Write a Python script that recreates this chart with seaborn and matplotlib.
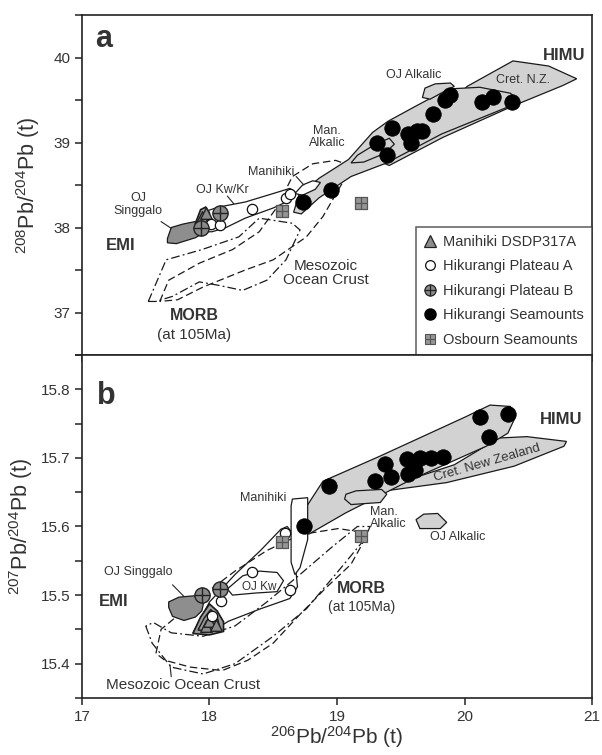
import numpy as np
import pandas as pd
import matplotlib
matplotlib.use("Agg")
import matplotlib.pyplot as plt
import seaborn as sns
from matplotlib.lines import Line2D
from matplotlib.legend_handler import HandlerTuple

# ---------------- data : panel a (208Pb/204Pb vs 206Pb/204Pb) ----------------
sea_x_a = [18.73, 18.95, 19.31, 19.39, 19.43, 19.56, 19.58, 19.63, 19.67, 19.75, 19.85, 19.89, 20.14, 20.22, 20.37]
sea_y_a = [38.30, 38.44, 38.99, 38.85, 39.17, 39.10, 39.00, 39.13, 39.14, 39.34, 39.50, 39.56, 39.48, 39.54, 39.48]
plA_x_a = [18.01, 18.08, 18.33, 18.60, 18.63]
plA_y_a = [38.04, 38.03, 38.22, 38.35, 38.40]
plB_x_a = [17.93, 18.08]
plB_y_a = [38.00, 38.17]
osb_x_a = [18.57, 19.19]
osb_y_a = [38.20, 38.29]
man_x_a = [17.94, 17.97]
man_y_a = [38.12, 38.17]

# ---------------- data : panel b (207Pb/204Pb vs 206Pb/204Pb) ----------------
sea_x_b = [18.74, 18.94, 19.30, 19.38, 19.42, 19.55, 19.56, 19.61, 19.65, 19.74, 19.83, 20.12, 20.19, 20.34]
sea_y_b = [15.601, 15.659, 15.666, 15.691, 15.672, 15.698, 15.676, 15.683, 15.700, 15.700, 15.701, 15.760, 15.731, 15.764]
plA_x_b = [18.02, 18.09, 18.33, 18.59, 18.63]
plA_y_b = [15.470, 15.491, 15.533, 15.591, 15.508]
plB_x_b = [17.94, 18.08]
plB_y_b = [15.500, 15.509]
osb_x_b = [18.57, 19.19]
osb_y_b = [15.577, 15.586]
man_x_b = [17.97, 18.00, 18.05]
man_y_b = [15.455, 15.462, 15.456]

legend_labels = ["Manihiki DSDP317A", "Hikurangi Plateau A", "Hikurangi Plateau B",
                 "Hikurangi Seamounts", "Osbourn Seamounts"]
x_ticks = [17, 18, 19, 20, 21]
y_ticks_a = [37, 38, 39, 40]
y_ticks_b = [15.4, 15.5, 15.6, 15.7, 15.8]

# ---------------- field outlines (data coordinates) ----------------
fields_a = {
    "cretnz": [(19.36, 38.76), (19.92, 39.5), (20.02, 39.66), (20.38, 39.96), (20.66, 39.90),
               (20.88, 39.75), (20.77, 39.67), (20.38, 39.43), (19.83, 39.06), (19.41, 38.73)],
    "seamount": [(18.66, 38.18), (18.70, 38.38), (18.86, 38.58), (19.09, 38.80), (19.28, 39.12),
                 (19.40, 39.25), (19.62, 39.43), (19.87, 39.63), (20.12, 39.65), (20.36, 39.58),
                 (20.42, 39.50), (20.36, 39.43), (19.82, 39.10), (19.39, 38.76), (19.11, 38.60),
                 (18.86, 38.35), (18.72, 38.16)],
    "manalk": [(19.11, 38.76), (19.16, 38.85), (19.29, 38.97), (19.41, 39.05), (19.45, 38.98),
               (19.37, 38.87), (19.21, 38.77)],
    "ojalk": [(19.67, 39.53), (19.69, 39.64), (19.77, 39.69), (19.89, 39.70), (19.92, 39.66),
              (19.84, 39.60), (19.73, 39.51)],
    "singgalo": [(17.67, 37.87), (17.70, 38.0), (17.79, 38.04), (17.92, 38.08), (17.98, 38.05),
                 (17.97, 37.95), (17.89, 37.88), (17.74, 37.81), (17.67, 37.82)],
    "manfield": [(17.89, 38.05), (17.93, 38.21), (17.97, 38.24), (18.00, 38.17), (17.98, 38.01)],
    "ojkw": [(17.94, 37.95), (17.92, 38.03), (17.97, 38.19), (18.07, 38.24), (18.28, 38.30),
             (18.50, 38.40), (18.63, 38.46), (18.67, 38.42), (18.63, 38.32), (18.50, 38.23),
             (18.28, 38.11), (18.13, 38.00), (18.02, 37.95)],
    "manihiki": [(18.67, 38.40), (18.73, 38.50), (18.81, 38.55), (18.87, 38.53), (18.83, 38.45),
                 (18.73, 38.38)],
    "morb": [(17.52, 37.13), (17.66, 37.62), (17.94, 37.74), (18.23, 37.89), (18.39, 38.11),
             (18.65, 38.05), (18.71, 37.97), (18.60, 37.62), (18.45, 37.38), (18.26, 37.26),
             (18.07, 37.32), (17.92, 37.36), (17.71, 37.19), (17.58, 37.13)],
    "meso": [(17.61, 37.13), (17.68, 37.38), (17.92, 37.58), (18.18, 37.74), (18.39, 37.95),
             (18.53, 38.24), (18.65, 38.60), (18.81, 38.75), (18.99, 38.79), (19.08, 38.74),
             (19.04, 38.52), (18.89, 38.13), (18.76, 37.89), (18.50, 37.62), (18.28, 37.50),
             (17.95, 37.30), (17.75, 37.15)],
}
fields_b = {
    "cretnz": [(19.41, 15.659), (19.92, 15.690), (20.27, 15.729), (20.49, 15.731), (20.80, 15.724),
               (20.78, 15.717), (20.39, 15.688), (19.86, 15.664), (19.38, 15.652)],
    "seamount": [(18.71, 15.591), (18.68, 15.606), (18.89, 15.666), (19.33, 15.702), (20.01, 15.760),
                 (20.20, 15.777), (20.36, 15.775), (20.40, 15.760), (20.34, 15.736), (20.17, 15.717),
                 (19.59, 15.669), (19.07, 15.620), (18.78, 15.589)],
    "manalk": [(19.07, 15.647), (19.15, 15.652), (19.35, 15.654), (19.39, 15.647), (19.34, 15.635),
               (19.11, 15.632), (19.06, 15.640)],
    "ojalk": [(19.62, 15.610), (19.68, 15.618), (19.79, 15.619), (19.86, 15.606), (19.81, 15.597),
              (19.65, 15.597)],
    "singgalo": [(17.68, 15.490), (17.76, 15.497), (17.88, 15.499), (17.96, 15.494), (17.94, 15.477),
                 (17.89, 15.468), (17.80, 15.463), (17.71, 15.469), (17.68, 15.482)],
    "manfield": [(17.87, 15.444), (17.93, 15.468), (18.00, 15.487), (18.06, 15.477), (18.11, 15.461),
                 (18.11, 15.447), (18.00, 15.442)],
    "manfield2": [(17.91, 15.449), (17.96, 15.467), (18.01, 15.479), (18.06, 15.468), (18.08, 15.454),
                  (18.01, 15.448)],
    "plateau": [(17.87, 15.445), (18.00, 15.490), (18.20, 15.530), (18.40, 15.565), (18.56, 15.596),
                (18.61, 15.600), (18.65, 15.590), (18.67, 15.550), (18.69, 15.512), (18.63, 15.495),
                (18.40, 15.480), (18.15, 15.462), (18.00, 15.445)],
    "ojkw": [(18.14, 15.509), (18.26, 15.528), (18.39, 15.535), (18.53, 15.533), (18.58, 15.521),
             (18.53, 15.505), (18.36, 15.503), (18.18, 15.500)],
    "manihiki": [(18.64, 15.630), (18.65, 15.640), (18.77, 15.642), (18.77, 15.581), (18.71, 15.540),
                 (18.67, 15.530), (18.64, 15.548)],
    "meso": [(17.58, 15.415), (17.62, 15.450), (17.75, 15.470), (17.95, 15.500), (18.20, 15.535),
             (18.45, 15.565), (18.71, 15.588), (19.01, 15.597), (19.18, 15.592), (19.20, 15.575),
             (19.11, 15.545), (18.91, 15.510), (18.70, 15.470), (18.50, 15.430), (18.30, 15.405),
             (18.10, 15.390), (17.85, 15.395), (17.65, 15.405)],
    "morb": [(17.50, 15.455), (17.55, 15.430), (17.70, 15.395), (17.95, 15.385), (18.20, 15.400),
             (18.50, 15.440), (18.76, 15.480), (19.01, 15.535), (19.21, 15.580), (19.26, 15.600),
             (19.16, 15.600), (18.96, 15.570), (18.71, 15.530), (18.45, 15.490), (18.20, 15.455),
             (17.95, 15.440), (17.70, 15.445), (17.56, 15.460)],
}

# ---------------- style ----------------
sns.set_theme(style="ticks")
plt.rcParams["font.family"] = ["Liberation Sans", "DejaVu Sans"]
plt.rcParams["mathtext.fontset"] = "custom"
plt.rcParams["mathtext.rm"] = "Liberation Sans"
plt.rcParams["mathtext.it"] = "Liberation Sans"
TXT = "#333333"
LG = "#d2d2d2"
DG = "#8e8e8e"
MG = "#8a8a8a"

fig = plt.figure(figsize=(6.02, 7.55), dpi=100)
ax_a = fig.add_axes([0.1362, 0.5298, 0.8472, 0.4503])
ax_b = fig.add_axes([0.1362, 0.0755, 0.8472, 0.4543])


def poly(ax, pts, fc="none", lw=0.9, z=2, dashes=None):
    xy = np.array(pts)
    p = ax.fill(xy[:, 0], xy[:, 1], facecolor=fc, edgecolor="#1a1a1a", lw=lw, zorder=z)[0]
    if dashes is not None:
        p.set_linestyle((0, dashes))
    return p


def draw_fields(ax, f, panel):
    poly(ax, f["meso"], dashes=(6, 3), z=1.5)
    poly(ax, f["morb"], dashes=(7, 2.5, 1.5, 2.5), z=1.5)
    poly(ax, f["cretnz"], fc=LG, z=2)
    poly(ax, f["seamount"], fc=LG, z=2.1)
    poly(ax, f["manalk"], fc=LG, z=2.2)
    poly(ax, f["ojalk"], fc=LG, z=2.2)
    if panel == "b":
        poly(ax, f["plateau"], fc="none", z=2.2)
    poly(ax, f["ojkw"], fc="white" if panel == "a" else "none", z=2.3)
    poly(ax, f["manihiki"], fc="white", z=2.3)
    poly(ax, f["singgalo"], fc=DG, z=2.4)
    poly(ax, f["manfield"], fc="#9a9a9a", z=2.4, lw=1.2)
    if "manfield2" in f:
        poly(ax, f["manfield2"], fc="none", z=2.45, lw=1.0)


def draw_points(ax, sx, sy, ax_, ay, bx, by, ox, oy, mx, my):
    sns.scatterplot(x=mx, y=my, marker="^", s=70, color="#8c8c8c", edgecolor="#222222",
                    linewidth=1.0, ax=ax, zorder=5, legend=False)
    sns.scatterplot(x=ax_, y=ay, marker="o", s=55, color="white", edgecolor="#111111",
                    linewidth=0.9, ax=ax, zorder=6, legend=False)
    sns.scatterplot(x=bx, y=by, marker="o", s=120, color=MG, edgecolor="#222222",
                    linewidth=1.0, ax=ax, zorder=6, legend=False)
    sns.scatterplot(x=bx, y=by, marker="+", s=120, color="#222222",
                    linewidth=1.0, ax=ax, zorder=6.1, legend=False)
    sns.scatterplot(x=ox, y=oy, marker="s", s=80, color="#959595", edgecolor="#555555",
                    linewidth=0.9, ax=ax, zorder=6, legend=False)
    sns.scatterplot(x=ox, y=oy, marker="+", s=80, color="#555555",
                    linewidth=0.9, ax=ax, zorder=6.1, legend=False)
    sns.scatterplot(x=sx, y=sy, marker="o", s=125, color="black", edgecolor="black",
                    linewidth=0.5, ax=ax, zorder=7, legend=False)


draw_fields(ax_a, fields_a, "a")
draw_fields(ax_b, fields_b, "b")
draw_points(ax_a, sea_x_a, sea_y_a, plA_x_a, plA_y_a, plB_x_a, plB_y_a, osb_x_a, osb_y_a, man_x_a, man_y_a)
draw_points(ax_b, sea_x_b, sea_y_b, plA_x_b, plA_y_b, plB_x_b, plB_y_b, osb_x_b, osb_y_b, man_x_b, man_y_b)

# ---------------- axes ----------------
for ax in (ax_a, ax_b):
    ax.set_xlim(17, 21)
    ax.set_xticks(x_ticks)
    for s in ax.spines.values():
        s.set_visible(True)
        s.set_color("#222222")
        s.set_linewidth(1.2)
    ax.tick_params(which="both", direction="out", length=5, width=1.1, color="#222222",
                   labelsize=11, labelcolor=TXT, top=False, right=False)
    ax.set_facecolor("white")
    ax.grid(False)

ax_a.set_ylim(36.5, 40.5)
ax_a.set_yticks(y_ticks_a)
ax_a.set_yticks(np.arange(36.5, 40.51, 0.5), minor=True)
ax_a.set_xticklabels([])
ax_a.set_ylabel(r"$^{208}$Pb/$^{204}$Pb (t)", fontsize=15.5, color=TXT, labelpad=8)

ax_b.set_ylim(15.35, 15.85)
ax_b.set_yticks(y_ticks_b)
ax_b.set_yticklabels([f"{v:.1f}" for v in y_ticks_b])
ax_b.set_yticks(np.arange(15.35, 15.851, 0.05), minor=True)
ax_b.set_xticklabels([str(v) for v in x_ticks])
ax_b.set_ylabel(r"$^{207}$Pb/$^{204}$Pb (t)", fontsize=15.5, color=TXT, labelpad=4)
ax_b.set_xlabel(r"$^{206}$Pb/$^{204}$Pb (t)", fontsize=15, color=TXT, labelpad=0)

# ---------------- annotations panel a ----------------
kw = dict(color=TXT, ha="center", va="center", zorder=8)
ax_a.text(17.17, 40.22, "a", fontsize=22, fontweight="bold", **kw)
ax_a.text(20.78, 40.02, "HIMU", fontsize=12, fontweight="bold", **kw)
ax_a.text(19.60, 39.80, "OJ Alkalic", fontsize=9, **kw)
ax_a.text(20.46, 39.73, "Cret. N.Z.", fontsize=9, **kw)
ax_a.text(18.92, 39.07, "Man.\nAlkalic", fontsize=9, linespacing=1.0, **kw)
ax_a.text(18.48, 38.65, "Manihiki", fontsize=9, **kw)
ax_a.plot([18.68, 18.74], [38.60, 38.50], color="#222222", lw=0.8, zorder=8)
ax_a.text(18.10, 38.44, "OJ Kw/Kr", fontsize=9, **kw)
ax_a.plot([18.14, 18.19], [38.37, 38.28], color="#222222", lw=0.8, zorder=8)
ax_a.text(17.44, 38.27, "OJ\nSinggalo", fontsize=9, linespacing=1.05, **kw)
ax_a.plot([17.62, 17.70], [38.07, 37.99], color="#222222", lw=0.8, zorder=8)
ax_a.text(17.30, 37.79, "EMI", fontsize=12, fontweight="bold", **kw)
ax_a.text(18.91, 37.47, "Mesozoic\nOcean Crust", fontsize=11, linespacing=1.0, **kw)
ax_a.text(17.88, 36.97, "MORB", fontsize=11.5, fontweight="bold", **kw)
ax_a.text(17.88, 36.74, "(at 105Ma)", fontsize=11, **kw)

# legend
h_man = Line2D([], [], ls="none", marker="^", ms=8, mfc="#8c8c8c", mec="#222222", mew=0.9)
h_pa = Line2D([], [], ls="none", marker="o", ms=7, mfc="white", mec="#111111", mew=0.9)
h_pb1 = Line2D([], [], ls="none", marker="o", ms=8, mfc=MG, mec="#222222", mew=0.9)
h_pb2 = Line2D([], [], ls="none", marker="+", ms=8, mec="#222222", mew=0.9)
h_sea = Line2D([], [], ls="none", marker="o", ms=8, mfc="black", mec="black")
h_os1 = Line2D([], [], ls="none", marker="s", ms=7, mfc="#959595", mec="#555555", mew=0.8)
h_os2 = Line2D([], [], ls="none", marker="+", ms=7, mec="#555555", mew=0.8)
leg = ax_a.legend([h_man, h_pa, (h_pb1, h_pb2), h_sea, (h_os1, h_os2)], legend_labels,
                  handler_map={tuple: HandlerTuple(ndivide=1)},
                  loc="lower right", bbox_to_anchor=(1.0, 0.0), borderaxespad=0,
                  fontsize=10.5, frameon=True, fancybox=False, handlelength=0.8,
                  handletextpad=0.5, labelspacing=0.72, borderpad=0.55)
leg.get_frame().set_edgecolor("#333333")
leg.get_frame().set_linewidth(1.1)
leg.set_zorder(10)
for t in leg.get_texts():
    t.set_color(TXT)

# ---------------- annotations panel b ----------------
ax_b.text(17.19, 15.79, "b", fontsize=22, fontweight="bold", **kw)
ax_b.text(20.76, 15.756, "HIMU", fontsize=12, fontweight="bold", **kw)
ax_b.text(20.18, 15.692, "Cret. New Zealand", fontsize=9.5, rotation=16, **kw)
ax_b.text(18.42, 15.641, "Manihiki", fontsize=9, **kw)
ax_b.text(19.26, 15.613, "Man.\nAlkalic", fontsize=9, linespacing=1.0, color=TXT,
          ha="left", va="center", zorder=8)
ax_b.text(19.95, 15.584, "OJ Alkalic", fontsize=9, **kw)
ax_b.text(19.19, 15.509, "MORB", fontsize=11.5, fontweight="bold", **kw)
ax_b.text(19.19, 15.483, "(at 105Ma)", fontsize=10, **kw)
ax_b.text(18.39, 15.512, "OJ Kw", fontsize=8.5, **kw)
ax_b.text(17.44, 15.533, "OJ Singgalo", fontsize=9, **kw)
ax_b.plot([17.71, 17.80], [15.515, 15.498], color="#222222", lw=0.8, zorder=8)
ax_b.text(17.25, 15.49, "EMI", fontsize=12, fontweight="bold", **kw)
ax_b.text(17.79, 15.369, "Mesozoic Ocean Crust", fontsize=11, **kw)
ax_b.plot([17.70, 17.69], [15.381, 15.398], color="#222222", lw=0.8, zorder=8)

fig.savefig("out.png", dpi=100)
